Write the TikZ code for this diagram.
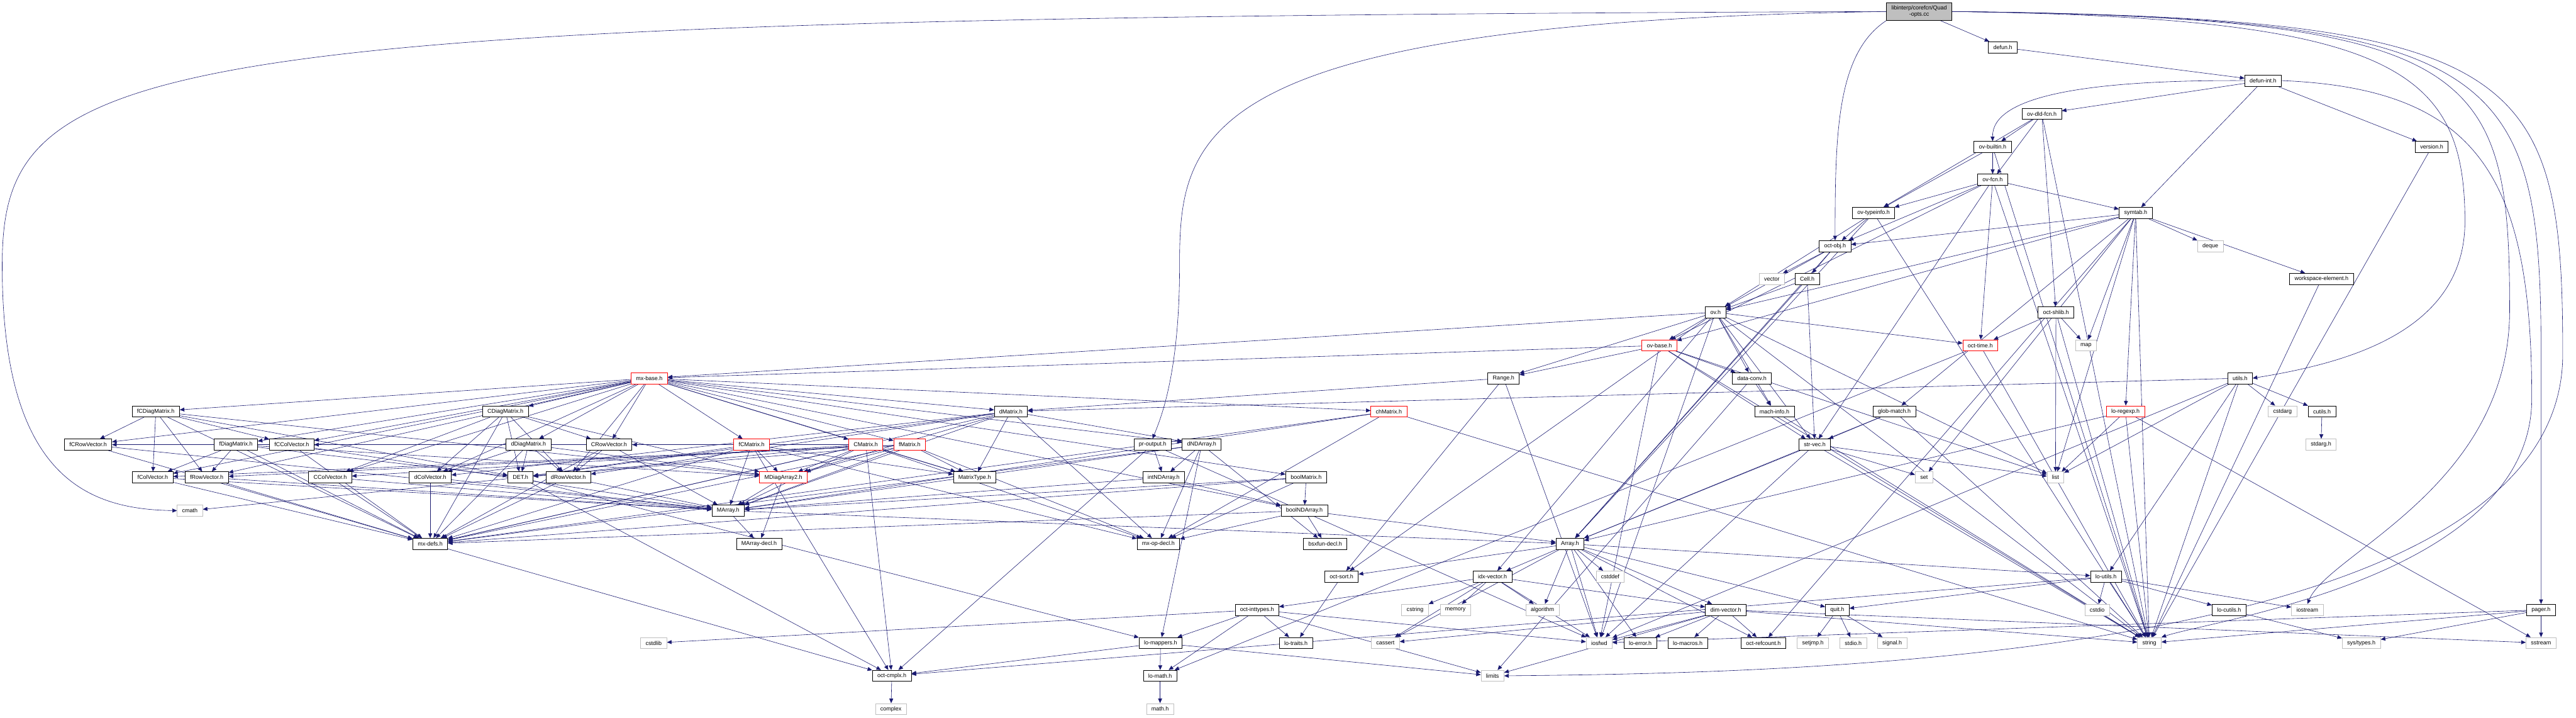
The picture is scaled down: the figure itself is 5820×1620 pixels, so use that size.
\documentclass[tikz,border=0pt]{standalone}
\usepackage{fontspec}
\setmainfont{Liberation Sans}
\usetikzlibrary{arrows.meta}
\definecolor{edgeblue}{RGB}{25,25,112}
\definecolor{sysgray}{RGB}{191,191,191}
\pgfdeclarelayer{background}
\pgfsetlayers{background,main}
\tikzset{
    box_file/.style={
        rectangle, draw=black, line width=0.8pt, fill=white,
        inner xsep=2.8mm, inner ysep=0pt, minimum height=6.3mm,
        font=\fontsize{9.1}{10.5}\selectfont
    },
    box_red/.style={box_file, draw=red},
    box_sys/.style={box_file, draw=sysgray},
    box_root/.style={box_file, fill=sysgray, align=center, minimum height=10mm},
    dep_arrow/.style={
        -{Triangle[length=2.6mm, width=2.2mm]}, draw=edgeblue, color=edgeblue, line width=0.6pt
    }
}

\begin{document}
\begin{tikzpicture}[x=0.025cm, y=-0.025cm]
    \useasboundingbox (0,0) rectangle (5820,1620);

    % top part: the source file and the interpreter headers
    \node[box_root] (root) at (4336, 26) {libinterp/corefcn/Quad\\-opts.cc};
    \node[box_file] (defun) at (4525, 107) {defun.h};
    \node[box_file] (defunint) at (5113, 182) {defun-int.h};
    \node[box_file] (ovdld) at (4613, 257) {ov-dld-fcn.h};
    \node[box_file] (ovbuiltin) at (4502, 332) {ov-builtin.h};
    \node[box_file] (version) at (5494, 332) {version.h};
    \node[box_file] (ovfcn) at (4502, 406) {ov-fcn.h};
    \node[box_file] (ovtypeinfo) at (4233, 481) {ov-typeinfo.h};
    \node[box_file] (symtab) at (4825, 481) {symtab.h};
    \node[box_file] (octobj) at (4146, 556) {oct-obj.h};
    \node[box_sys] (s_deque) at (4994, 556) {deque};
    \node[box_sys] (s_vector) at (4003, 630) {vector};
    \node[box_file] (cell) at (4083, 630) {Cell.h};
    \node[box_file] (wselem) at (5245, 630) {workspace-element.h};
    \node[box_file] (ovh) at (3876, 705) {ov.h};
    \node[box_file] (octshlib) at (4645, 705) {oct-shlib.h};
    \node[box_red] (ovbase) at (3749, 780) {ov-base.h};
    \node[box_red] (octtime) at (4474, 780) {oct-time.h};
    \node[box_sys] (s_map) at (4713, 780) {map};
    \node[box_red] (mxbase) at (1467, 854) {mx-base.h};
    \node[box_file] (range) at (3397, 854) {Range.h};
    \node[box_file] (dataconv) at (3958, 854) {data-conv.h};
    \node[box_file] (utils) at (5061, 854) {utils.h};

    % matrix headers
    \node[box_file] (fCDiag) at (352, 929) {fCDiagMatrix.h};
    \node[box_file] (CDiag) at (1142, 929) {CDiagMatrix.h};
    \node[box_file] (dMatrix) at (2284, 929) {dMatrix.h};
    \node[box_red] (chMatrix) at (3138, 929) {chMatrix.h};
    \node[box_file] (machinfo) at (4009, 929) {mach-info.h};
    \node[box_file] (globmatch) at (4280, 929) {glob-match.h};
    \node[box_red] (loregexp) at (4802, 929) {lo-regexp.h};
    \node[box_sys] (s_cstdarg) at (5157, 929) {cstdarg};
    \node[box_file] (cutils) at (5246, 929) {cutils.h};

    \node[box_file] (fCRowV) at (199, 1004) {fCRowVector.h};
    \node[box_file] (fDiag) at (533, 1004) {fDiagMatrix.h};
    \node[box_file] (fCColV) at (659, 1004) {fCColVector.h};
    \node[box_file] (dDiag) at (1194, 1004) {dDiagMatrix.h};
    \node[box_file] (CRowV) at (1376, 1004) {CRowVector.h};
    \node[box_red] (fCMatrix) at (1698, 1004) {fCMatrix.h};
    \node[box_red] (CMatrix) at (1956, 1004) {CMatrix.h};
    \node[box_red] (fMatrix) at (2055, 1004) {fMatrix.h};
    \node[box_file] (proutput) at (2604, 1004) {pr-output.h};
    \node[box_file] (dNDArray) at (2715, 1004) {dNDArray.h};
    \node[box_file] (strvec) at (4100, 1004) {str-vec.h};
    \node[box_sys] (s_stdarg) at (5244, 1004) {stdarg.h};

    \node[box_file] (fColV) at (345, 1078) {fColVector.h};
    \node[box_file] (fRowV) at (467, 1078) {fRowVector.h};
    \node[box_file] (CColV) at (746, 1078) {CColVector.h};
    \node[box_file] (dColV) at (972, 1078) {dColVector.h};
    \node[box_file] (DET) at (1176, 1078) {DET.h};
    \node[box_file] (dRowV) at (1284, 1078) {dRowVector.h};
    \node[box_red] (MDiag) at (1770, 1078) {MDiagArray2.h};
    \node[box_file] (mtype) at (2202, 1078) {MatrixType.h};
    \node[box_file] (intNDArray) at (2629, 1078) {intNDArray.h};
    \node[box_file] (boolMatrix) at (2951, 1078) {boolMatrix.h};
    \node[box_sys] (s_set) at (4347, 1078) {set};
    \node[box_sys] (s_list) at (4644, 1078) {list};

    \node[box_sys] (s_cmath) at (429, 1153) {cmath};
    \node[box_file] (MArray) at (1645, 1153) {MArray.h};
    \node[box_file] (boolNDArray) at (2947, 1153) {boolNDArray.h};

    \node[box_file] (mxdefs) at (972, 1228) {mx-defs.h};
    \node[box_file] (MArraydecl) at (1715, 1228) {MArray-decl.h};
    \node[box_file] (mxopdecl) at (2617, 1228) {mx-op-decl.h};
    \node[box_file] (bsxfun) at (2994, 1228) {bsxfun-decl.h};
    \node[box_file] (arrayh) at (3547, 1228) {Array.h};

    % low level headers
    \node[box_file] (octsort) at (3031, 1302) {oct-sort.h};
    \node[box_file] (idxvector) at (3372, 1302) {idx-vector.h};
    \node[box_sys] (s_cstddef) at (3638, 1302) {cstddef};
    \node[box_file] (loutils) at (4758, 1302) {lo-utils.h};

    \node[box_file] (octint) at (2840, 1377) {oct-inttypes.h};
    \node[box_sys] (s_cstring) at (3197, 1377) {cstring};
    \node[box_sys] (s_memory) at (3288, 1377) {memory};
    \node[box_sys] (s_algorithm) at (3485, 1377) {algorithm};
    \node[box_file] (dimvector) at (3899, 1377) {dim-vector.h};
    \node[box_file] (quit) at (4151, 1377) {quit.h};
    \node[box_sys] (s_cstdio) at (4738, 1377) {cstdio};
    \node[box_file] (locutils) at (5036, 1377) {lo-cutils.h};
    \node[box_sys] (s_iostream) at (5213, 1377) {iostream};
    \node[box_file] (pager) at (5741, 1377) {pager.h};

    \node[box_sys] (s_cstdlib) at (1477, 1452) {cstdlib};
    \node[box_file] (lomappers) at (2622, 1452) {lo-mappers.h};
    \node[box_file] (lotraits) at (2928, 1452) {lo-traits.h};
    \node[box_sys] (s_cassert) at (3130, 1452) {cassert};
    \node[box_sys] (s_iosfwd) at (3613, 1452) {iosfwd};
    \node[box_file] (loerror) at (3706, 1452) {lo-error.h};
    \node[box_file] (lomacros) at (3813, 1452) {lo-macros.h};
    \node[box_file] (octrefcount) at (3984, 1452) {oct-refcount.h};
    \node[box_sys] (s_setjmp) at (4096, 1452) {setjmp.h};
    \node[box_sys] (s_stdio) at (4187, 1452) {stdio.h};
    \node[box_sys] (s_signal) at (4275, 1452) {signal.h};
    \node[box_sys] (s_string) at (4856, 1452) {string};
    \node[box_sys] (s_systypes) at (5335, 1452) {sys/types.h};
    \node[box_sys] (s_sstream) at (5741, 1452) {sstream};

    \node[box_file] (octcmplx) at (2015, 1526) {oct-cmplx.h};
    \node[box_file] (lomath) at (2621, 1526) {lo-math.h};
    \node[box_sys] (s_limits) at (3372, 1526) {limits};
    \node[box_sys] (s_complex) at (2013, 1601) {complex};
    \node[box_sys] (s_math) at (2621, 1601) {math.h};

    \begin{pgfonlayer}{background}
    % long edges of the source file
    \draw[dep_arrow] (root.west) .. controls (300,40) and (5,120) .. (5,600) .. controls (5,1080) and (200,1150) .. (s_cmath.west);
    \draw[dep_arrow] (root.west) .. controls (2700,50) and (2665,300) .. (2665,600) .. controls (2665,850) and (2620,950) .. (proutput.north);
    \draw[dep_arrow] (root.south west) .. controls (4150,120) and (4146,300) .. (octobj.north);
    \draw[dep_arrow] (root) -- (defun);
    \draw[dep_arrow] (root.east) .. controls (5400,40) and (5569,150) .. (5569,500) .. controls (5569,750) and (5300,820) .. (utils.east);
    \draw[dep_arrow] (root.east) .. controls (5600,40) and (5670,150) .. (5670,700) .. controls (5670,1100) and (5260,1250) .. (s_iostream.north);
    \draw[dep_arrow] (root.east) .. controls (5650,40) and (5741,150) .. (5741,800) -- (pager.north);
    \draw[dep_arrow] (root.east) .. controls (5700,40) and (5790,150) .. (5790,800) .. controls (5790,1500) and (4000,1520) .. (s_limits.east);

    % interpreter headers
    \draw[dep_arrow] (defun) -- (defunint);
    \draw[dep_arrow] (defunint) edge (ovdld) edge (symtab) edge (version);
    \draw[dep_arrow] (defunint.west) .. controls (4700,180) and (4500,220) .. (ovbuiltin.north);
    \draw[dep_arrow] (defunint.east) .. controls (5600,200) and (5720,400) .. (5720,900) .. controls (5720,1300) and (5000,1400) .. (s_string.north east);
    \draw[dep_arrow] (ovdld) edge (ovbuiltin) edge (ovfcn) edge (ovtypeinfo) edge (octshlib) edge (s_string);
    \draw[dep_arrow] (ovbuiltin) edge (ovfcn) edge (ovtypeinfo) edge (s_string);
    \draw[dep_arrow] (ovfcn) edge (ovtypeinfo) edge (symtab) edge (octobj) edge (ovbase) edge (octtime) edge (strvec) edge (s_string);
    \draw[dep_arrow] (ovtypeinfo) edge (octobj) edge (ovh) edge (arrayh) edge (s_string);
    \draw[dep_arrow] (symtab) edge (s_deque) edge (wselem) edge (octobj) edge (ovh) edge (ovbase) edge (s_map)
        edge (s_list) edge (s_set) edge (s_string) edge (globmatch) edge (loregexp) edge (octrefcount);
    \draw[dep_arrow] (octobj) edge (s_vector) edge (cell) edge (ovh) edge (arrayh);
    \draw[dep_arrow] (cell) edge (ovh) edge (arrayh) edge (strvec);
    \draw[dep_arrow] (ovh) edge (ovbase) edge (octtime) edge (dataconv) edge (mxbase) edge (range) edge (strvec)
        edge (idxvector) edge (machinfo) edge (octsort) edge (s_string) edge (s_list) edge (s_iosfwd);
    \draw[dep_arrow] (ovbase) edge (dataconv) edge (mxbase) edge (range) edge (strvec) edge (s_string) edge (s_list) edge (s_iosfwd);
    \draw[dep_arrow] (octshlib) edge (octtime) edge (s_map) edge (s_string) edge (s_list);
    \draw[dep_arrow] (octtime) edge (lomath) edge (s_string);
    \draw[dep_arrow] (dataconv) edge (machinfo) edge (s_limits);
    \draw[dep_arrow] (machinfo) -- (s_string);
    \draw[dep_arrow] (range) edge (dMatrix) edge (octsort) edge (s_iosfwd);
    \draw[dep_arrow] (utils) edge (s_cstdarg) edge (cutils) edge (dMatrix) edge (loutils) edge (s_list) edge (s_string) edge (s_iosfwd);
    \draw[dep_arrow] (cutils) -- (s_stdarg);
    \draw[dep_arrow] (wselem) -- (s_string);
    \draw[dep_arrow] (version) -- (s_string);
    \draw[dep_arrow] (loregexp) edge (s_list) edge (arrayh) edge (s_string) edge (s_sstream);
    \draw[dep_arrow] (globmatch) edge (strvec) edge (arrayh) edge (s_string);
    \draw[dep_arrow] (strvec) edge (arrayh) edge (s_set) edge (s_list) edge (s_string) edge (s_iosfwd);

    % matrix headers
    \draw[dep_arrow] (mxbase) edge (fCDiag) edge (CDiag) edge (dMatrix) edge (chMatrix) edge (fCRowV) edge (fDiag)
        edge (fCColV) edge (dDiag) edge (CRowV) edge (fCMatrix) edge (CMatrix) edge (fMatrix) edge (dNDArray)
        edge (fColV) edge (fRowV) edge (CColV) edge (dColV) edge (dRowV) edge (mtype) edge (boolMatrix) edge (boolNDArray);
    \draw[dep_arrow] (chMatrix) edge (MArray) edge (mxdefs) edge (mxopdecl) edge (s_string);
    \draw[dep_arrow] (fCDiag) edge (fCRowV) edge (fColV) edge (fRowV) edge (fCColV) edge (DET) edge (MDiag) edge (mxdefs);
    \draw[dep_arrow] (CDiag) edge (CRowV) edge (dColV) edge (CColV) edge (DET) edge (MDiag) edge (mxdefs) edge (dRowV);
    \draw[dep_arrow] (dDiag) edge (dRowV) edge (dColV) edge (DET) edge (MDiag) edge (mxdefs);
    \draw[dep_arrow] (fDiag) edge (fRowV) edge (fColV) edge (DET) edge (MDiag) edge (mxdefs);
    \draw[dep_arrow] (dMatrix) edge (MArray) edge (MDiag) edge (mtype) edge (DET) edge (dRowV) edge (dColV)
        edge (mxdefs) edge (mxopdecl) edge (dNDArray);
    \draw[dep_arrow] (CMatrix) edge (MArray) edge (MDiag) edge (mtype) edge (DET) edge (mxdefs) edge (mxopdecl)
        edge (octcmplx) edge (CColV) edge (CRowV);
    \draw[dep_arrow] (fMatrix) edge (MArray) edge (MDiag) edge (mtype) edge (DET) edge (mxdefs) edge (mxopdecl)
        edge (fColV) edge (fRowV);
    \draw[dep_arrow] (fCMatrix) edge (MArray) edge (MDiag) edge (mtype) edge (DET) edge (mxdefs) edge (mxopdecl)
        edge (octcmplx) edge (fCColV) edge (fCRowV);
    \draw[dep_arrow] (fCRowV) edge (MArray) edge (mxdefs);
    \draw[dep_arrow] (fCColV) edge (MArray) edge (mxdefs);
    \draw[dep_arrow] (fColV) edge (MArray) edge (mxdefs);
    \draw[dep_arrow] (fRowV) edge (MArray) edge (mxdefs);
    \draw[dep_arrow] (CColV) edge (MArray) edge (mxdefs);
    \draw[dep_arrow] (dColV) edge (MArray) edge (mxdefs);
    \draw[dep_arrow] (dRowV) edge (MArray) edge (mxdefs);
    \draw[dep_arrow] (CRowV) edge (MArray) edge (dRowV) edge (mxdefs);
    \draw[dep_arrow] (DET) edge (s_cmath) edge (lomappers) edge (octcmplx);
    \draw[dep_arrow] (MDiag) edge (MArray) edge (MArraydecl);
    \draw[dep_arrow] (MArray) edge (MArraydecl) edge (arrayh);
    \draw[dep_arrow] (mxdefs) -- (octcmplx);
    \draw[dep_arrow] (proutput) edge (intNDArray) edge (octcmplx) edge (s_iosfwd);
    \draw[dep_arrow] (dNDArray) edge (intNDArray) edge (mxopdecl) edge (bsxfun) edge (MArray) edge (mxdefs) edge (lomappers);
    \draw[dep_arrow] (intNDArray) edge (boolNDArray) edge (MArray);
    \draw[dep_arrow] (boolMatrix) edge (boolNDArray) edge (mxopdecl) edge (MArray) edge (mxdefs);
    \draw[dep_arrow] (boolNDArray) edge (bsxfun) edge (mxopdecl) edge (arrayh) edge (mxdefs);

    % array and support headers
    \draw[dep_arrow] (arrayh) edge (s_cstddef) edge (dimvector) edge (idxvector) edge (loerror) edge (octsort)
        edge (quit) edge (octrefcount) edge (s_cassert) edge (s_algorithm) edge (s_iosfwd) edge (loutils);
    \draw[dep_arrow] (idxvector) edge (s_cassert) edge (s_cstring) edge (s_memory) edge (s_algorithm)
        edge (s_iosfwd) edge (dimvector) edge (octint);
    \draw[dep_arrow] (dimvector) edge (s_cassert) edge (s_iosfwd) edge (loerror) edge (lomacros) edge (octrefcount)
        edge (s_limits) edge (s_string) edge (s_sstream);
    \draw[dep_arrow] (octsort) -- (lotraits);
    \draw[dep_arrow] (octint) edge (s_cstdlib) edge (lomappers) edge (lomath) edge (lotraits) edge (s_limits) edge (s_iosfwd);
    \draw[dep_arrow] (lomappers) edge (octcmplx) edge (lomath) edge (s_limits);
    \draw[dep_arrow] (lomath) -- (s_math);
    \draw[dep_arrow] (octcmplx) -- (s_complex);
    \draw[dep_arrow] (quit) edge (s_setjmp) edge (s_stdio) edge (s_signal);
    \draw[dep_arrow] (loutils) edge (quit) edge (s_cstdio) edge (locutils) edge (s_iostream) edge (s_string) edge (octcmplx);
    \draw[dep_arrow] (locutils) -- (s_systypes);
    \draw[dep_arrow] (pager) edge (s_sstream) edge (s_string) edge (s_systypes) edge (s_iosfwd);
    \end{pgfonlayer}
\end{tikzpicture}
\end{document}
